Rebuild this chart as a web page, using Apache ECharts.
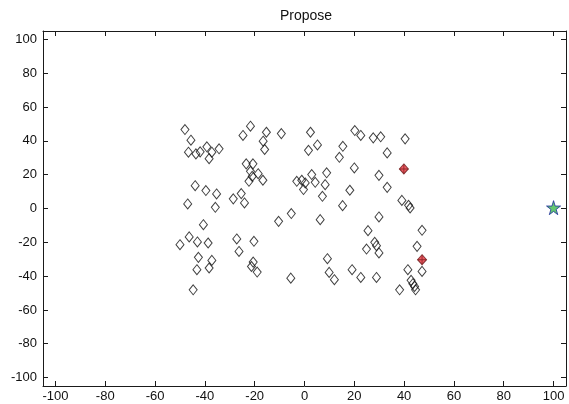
<!DOCTYPE html>
<html>
<head>
<meta charset="utf-8">
<script src="https://cdn.jsdelivr.net/npm/echarts@6/dist/echarts.min.js"></script>
<style>
html,body{margin:0;padding:0;background:#fff;}
#chart{width:569px;height:404px;}
</style>
</head>
<body>
<div id="chart"></div>
<script>
// ---- data ----
const titleText = 'Propose';
const axisMin = -105;
const axisMax = 105;

const diamondX = [
  -48.0,-45.6,-46.6,-43.6,-41.9,-39.2,-37.2,-34.3,-38.3,-21.7,-24.7,-15.3,-9.3,-16.6,-16.0,-23.4,-20.7,-21.7,-21.0,-18.6,-16.7,-22.3,-43.9,-39.6,-35.3,-25.4,-28.6,-24.1,-46.9,-35.8,
  -40.6,-46.3,-50.0,-43.0,-38.7,-42.6,-37.2,-43.2,-38.3,-44.7,-27.2,-20.3,-26.3,-20.6,-21.3,-19.0,-10.4,-5.3,-5.5,
  2.4,1.6,5.2,15.4,14.0,20.2,22.6,27.6,30.6,40.4,33.2,20.0,29.9,33.2,-3.1,-1.1,0.3,2.9,4.3,8.9,8.3,-0.4,7.2,18.2,15.3,39.1,41.8,42.4,
  6.3,29.9,25.5,28.2,28.9,24.9,29.9,47.2,45.2,47.2,41.5,42.8,43.5,44.2,44.6,38.2,9.2,9.9,12.0,19.1,22.6,28.9
];
const diamondY = [
  46.7,40.4,33.3,32.3,33.5,36.5,33.3,35.3,29.5,48.7,43.2,45.1,44.3,39.8,34.9,26.4,26.4,22.0,19.0,20.6,16.7,16.1,13.5,10.6,8.6,8.8,5.7,3.3,2.7,0.7,
  -9.6,-16.8,-21.4,-19.8,-20.4,-28.9,-30.7,-36.2,-35.2,-48.1,-18.0,-19.4,-25.4,-31.7,-34.3,-37.6,-7.6,-3.0,-41.2,
  45.1,34.4,37.6,36.8,30.3,46.1,43.2,41.8,42.4,41.2,32.9,24.0,19.6,12.5,16.1,16.7,15.1,20.1,15.5,21.1,14.1,11.2,7.2,10.8,1.7,4.8,1.9,0.3,
  -6.6,-5.0,-13.1,-20.0,-22.0,-24.0,-26.3,-12.9,-22.4,-37.2,-36.2,-42.5,-44.5,-46.1,-48.1,-48.1,-29.7,-37.8,-42.1,-36.2,-40.8,-40.8
];
const redX = [39.9, 47.2];
const redY = [23.4, -30.3];
const starX = [100];
const starY = [0.5];

// ---- chart ----
const pairs = (xs, ys) => xs.map((x, i) => [x, ys[i]]);
const labelFmt = v => (Math.abs(v % 20) < 1e-9 ? String(v) : '');
const lineStyle = { color: '#1a1a1a', width: 1 };
const font = 'Liberation Sans, Arial, sans-serif';

const baseAxis = {
  type: 'value', min: axisMin, max: axisMax, splitNumber: 10,
  axisLine: { show: true, onZero: false, lineStyle },
  axisTick: { show: true, inside: true, length: 5, lineStyle },
  splitLine: { show: false }
};

const chart = echarts.init(document.getElementById('chart'), null, { renderer: 'canvas' });
chart.setOption({
  animation: false,
  backgroundColor: '#ffffff',
  title: {
    text: titleText, left: 301, top: 4, textAlign: 'center',
    textStyle: { fontFamily: font, fontSize: 14, fontWeight: 'normal', color: '#111' }
  },
  grid: { left: 43, right: 0, top: 31, bottom: 18, containLabel: false },
  xAxis: [
    Object.assign({}, baseAxis, { position: 'bottom',
      axisLabel: { show: true, margin: 4, formatter: labelFmt, color: '#111', fontFamily: font, fontSize: 13 } }),
    Object.assign({}, baseAxis, { position: 'top', axisLabel: { show: false } })
  ],
  yAxis: [
    Object.assign({}, baseAxis, { position: 'left',
      axisLabel: { show: true, margin: 6, formatter: labelFmt, color: '#111', fontFamily: font, fontSize: 13 } }),
    Object.assign({}, baseAxis, { position: 'right', axisLabel: { show: false } })
  ],
  series: [
    {
      type: 'scatter', xAxisIndex: 0, yAxisIndex: 0,
      data: pairs(diamondX, diamondY),
      symbol: 'diamond', symbolSize: [8, 10],
      itemStyle: { color: 'rgba(255,255,255,0)', borderColor: '#111', borderWidth: 1 }
    },
    {
      type: 'scatter', xAxisIndex: 0, yAxisIndex: 0,
      data: pairs(redX, redY),
      symbol: 'diamond', symbolSize: [9, 10],
      itemStyle: { color: '#e8323c', borderColor: '#6a1a1a', borderWidth: 1 }
    },
    {
      type: 'scatter', xAxisIndex: 0, yAxisIndex: 0,
      data: pairs(redX, redY),
      symbol: 'path://M4.5,0 L5.5,0 L5.5,4.5 L10,4.5 L10,5.5 L5.5,5.5 L5.5,10 L4.5,10 L4.5,5.5 L0,5.5 L0,4.5 L4.5,4.5 Z',
      symbolSize: 9,
      itemStyle: { color: '#7a1c1c' }
    },
    {
      type: 'scatter', xAxisIndex: 0, yAxisIndex: 0,
      data: pairs(starX, starY),
      symbol: 'path://M50,0 L61,35 L98,35 L68,57 L79,91 L50,70 L21,91 L32,57 L2,35 L39,35 Z',
      symbolSize: 14,
      itemStyle: { color: '#3cb84e', borderColor: '#1c2a9c', borderWidth: 1 }
    }
  ]
});
</script>
</body>
</html>
